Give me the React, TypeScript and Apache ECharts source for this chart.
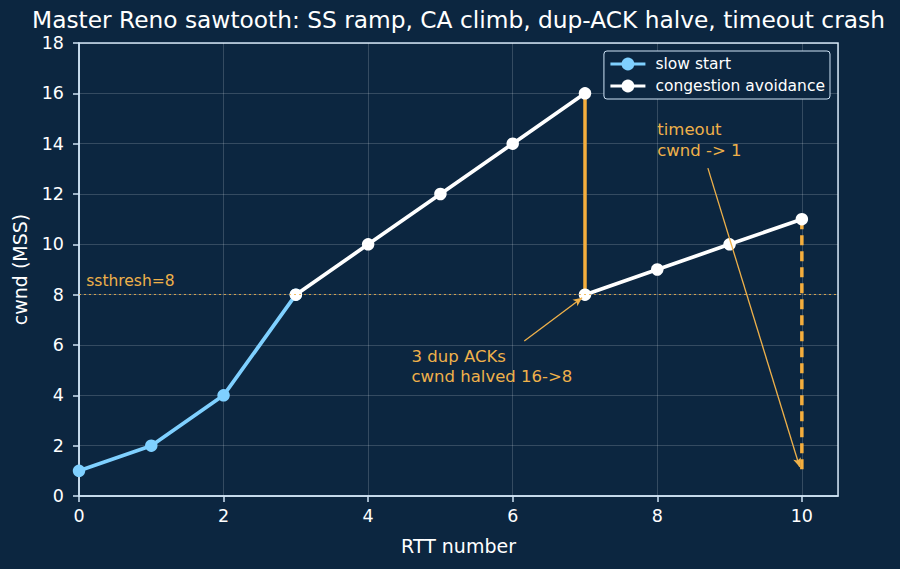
import React, { useEffect, useRef } from "react";
import * as echarts from "echarts";

const ssX = [0, 1, 2, 3];
const ssY = [1, 2, 4, 8];
const caX1 = [3, 4, 5, 6, 7];
const caY1 = [8, 10, 12, 14, 16];
const caX2 = [7, 8, 9, 10];
const caY2 = [8, 9, 10, 11];
const halveX = [7, 7];
const halveY = [16, 8];
const timeoutX = [10, 10];
const timeoutY = [11, 1];
const ssthresh = 8;

const BG = "#0c2640";
const SKY = "#7fd0ff";
const ORANGE = "#f5ae3d";
const ANN = "#efb14a";
const AXIS = "#cfe3f5";
const FONT = "DejaVu Sans";

const zip = (xs: number[], ys: number[]) => xs.map((x, i) => [x, ys[i]]);

export default function App() {
  const ref = useRef<HTMLDivElement>(null);
  useEffect(() => {
    const chart = echarts.init(ref.current!, null, { renderer: "svg" });
    const grid = { left: 79, right: 62, top: 43, bottom: 73 };
    chart.setOption({
      animation: false,
      backgroundColor: BG,
      textStyle: { fontFamily: FONT },
      grid: {
        ...grid,
        containLabel: false,
        outerBoundsMode: "none",
        show: true,
        borderColor: AXIS,
        borderWidth: 1.5,
        backgroundColor: "transparent",
      },
      legend: {
        data: ["slow start", "congestion avoidance"],
        right: 70,
        top: 51,
        orient: "vertical",
        itemWidth: 35,
        itemHeight: 16,
        itemGap: 6,
        padding: [5, 5, 5, 5],
        backgroundColor: BG,
        borderColor: AXIS,
        borderWidth: 1,
        borderRadius: 3,
        lineStyle: { width: 3 },
        textStyle: { color: "#ffffff", fontSize: 15.5, lineHeight: 16, fontFamily: FONT, padding: [0, 0, 0, 5] },
      },
      xAxis: {
        type: "value",
        min: 0,
        max: 10.5,
        interval: 2,
        name: "RTT number",
        nameLocation: "middle",
        nameGap: 40,
        nameTextStyle: { color: "#ffffff", fontSize: 19, fontFamily: FONT },
        axisLine: { show: true, lineStyle: { color: AXIS, width: 1.5 } },
        axisTick: { show: true, length: 6, lineStyle: { color: AXIS, width: 1.5 } },
        axisLabel: {
          color: "#ffffff",
          fontSize: 17.5,
          lineHeight: 18,
          margin: 11,
          fontFamily: FONT,
          showMaxLabel: false,
          formatter: (v: number) => (v === 10.5 ? "" : String(v)),
        },
        splitLine: { show: true, lineStyle: { color: "rgba(255,255,255,0.22)", width: 0.8 } },
      },
      yAxis: {
        type: "value",
        min: 0,
        max: 18,
        interval: 2,
        name: "cwnd (MSS)",
        nameLocation: "middle",
        nameGap: 50,
        nameTextStyle: { color: "#ffffff", fontSize: 19, fontFamily: FONT },
        axisLine: { show: true, lineStyle: { color: AXIS, width: 1.5 } },
        axisTick: { show: true, length: 6, lineStyle: { color: AXIS, width: 1.5 } },
        axisLabel: { color: "#ffffff", fontSize: 17.5, lineHeight: 13, margin: 15, fontFamily: FONT },
        splitLine: { show: true, lineStyle: { color: "rgba(255,255,255,0.22)", width: 0.8 } },
      },
      series: [
        {
          name: "halve",
          type: "line",
          data: zip(halveX, halveY),
          symbol: "none",
          lineStyle: { color: ORANGE, width: 3.5 },
          z: 1,
          markLine: {
            silent: true,
            symbol: "none",
            label: { show: false },
            lineStyle: { color: ANN, width: 1, type: [2, 3], opacity: 0.85 },
            data: [{ yAxis: ssthresh }],
          },
        },
        {
          name: "timeout",
          type: "line",
          data: zip(timeoutX, timeoutY),
          symbol: "none",
          lineStyle: { color: ORANGE, width: 3.5, type: [10, 6] },
          z: 1,
        },
        {
          name: "slow start",
          type: "line",
          data: zip(ssX, ssY),
          color: SKY,
          symbol: "circle",
          symbolSize: 12.5,
          lineStyle: { color: SKY, width: 3.7 },
          itemStyle: { color: SKY },
          z: 3,
        },
        {
          name: "congestion avoidance",
          type: "line",
          data: zip(caX1, caY1),
          color: "#ffffff",
          symbol: "circle",
          symbolSize: 12.5,
          lineStyle: { color: "#ffffff", width: 3.7 },
          itemStyle: { color: "#ffffff" },
          z: 4,
        },
        {
          name: "congestion avoidance",
          type: "line",
          data: zip(caX2, caY2),
          color: "#ffffff",
          symbol: "circle",
          symbolSize: 12.5,
          lineStyle: { color: "#ffffff", width: 3.7 },
          itemStyle: { color: "#ffffff" },
          z: 4,
          markLine: {
            silent: true,
            symbol: ["none", "arrow"],
            symbolSize: [6, 9],
            label: { show: false },
            lineStyle: { color: ANN, width: 1.3, type: "solid" },
            data: [
              [{ coord: [6.16, 6.16] }, { coord: [6.96, 7.88] }],
              [{ coord: [8.7, 13.03] }, { coord: [9.97, 1.15] }],
            ],
          },
        },
      ],
    });

    const p = (x: number, y: number) => chart.convertToPixel({ gridIndex: 0 }, [x, y]) as number[];
    const ss = p(0.1, ssthresh + 0.22);
    const dup = p(4.6, 4.35);
    const to = p(8, 13.3);
    chart.setOption({
      graphic: [
        {
          type: "text",
          x: 458.5,
          y: 19.5,
          style: {
            text: "Master Reno sawtooth: SS ramp, CA climb, dup-ACK halve, timeout crash",
            fill: "#ffffff",
            fontSize: 23.3,
            lineHeight: 19,
            fontFamily: FONT,
            textAlign: "center",
            textVerticalAlign: "middle",
          },
        },
        {
          type: "text",
          x: ss[0],
          y: ss[1],
          style: { text: "ssthresh=8", fill: ANN, fontSize: 15.5, fontFamily: FONT, textAlign: "left", textVerticalAlign: "bottom" },
        },
        {
          type: "text",
          x: dup[0],
          y: dup[1],
          style: {
            text: "3 dup ACKs\ncwnd halved 16->8",
            fill: ANN,
            fontSize: 16.5,
            lineHeight: 20,
            fontFamily: FONT,
            textAlign: "left",
            textVerticalAlign: "bottom",
          },
        },
        {
          type: "text",
          x: to[0],
          y: to[1],
          style: {
            text: "timeout\ncwnd -> 1",
            fill: ANN,
            fontSize: 16.5,
            lineHeight: 21,
            fontFamily: FONT,
            textAlign: "left",
            textVerticalAlign: "bottom",
          },
        },
      ],
    });
    return () => chart.dispose();
  }, []);
  return <div ref={ref} style={{ width: 900, height: 569, position: "absolute", left: 0, top: 0 }} />;
}
